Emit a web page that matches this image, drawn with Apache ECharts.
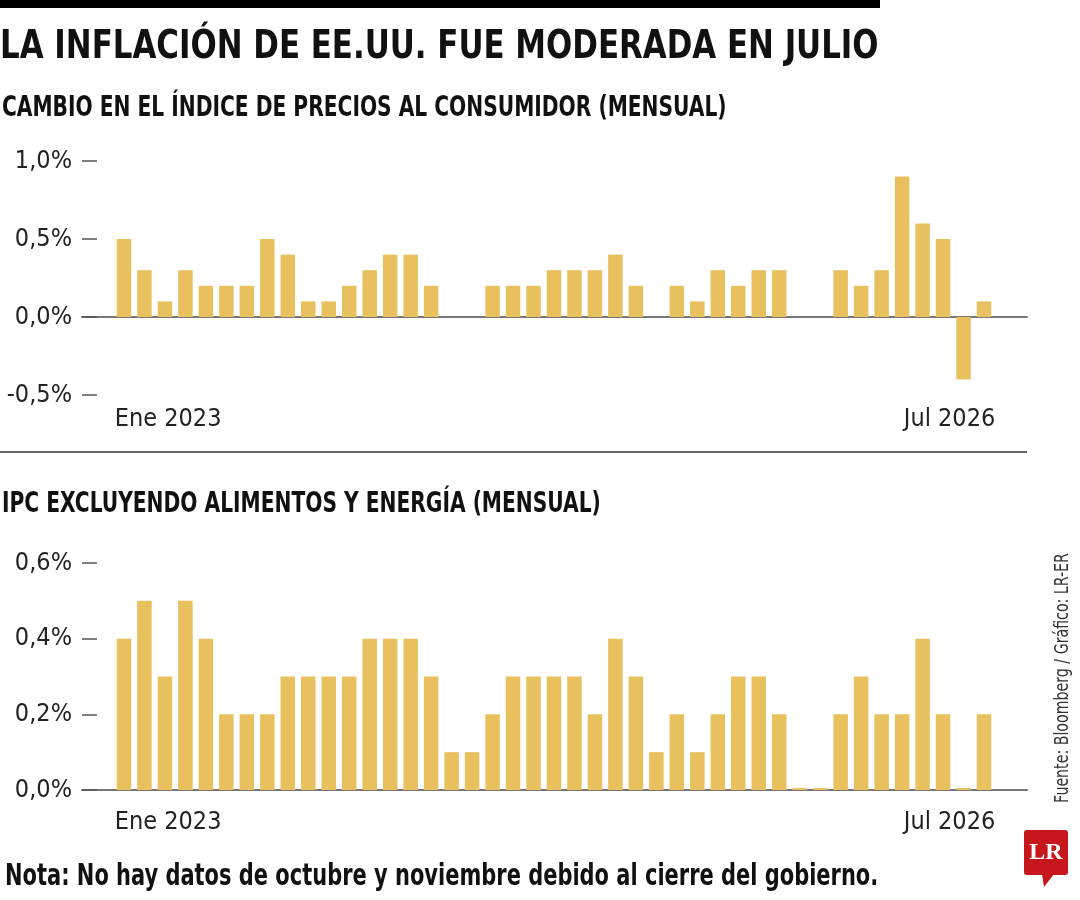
<!DOCTYPE html>
<html>
<head>
<meta charset="utf-8">
<title>Inflación EE.UU.</title>
<script src="https://cdn.jsdelivr.net/npm/echarts@6/dist/echarts.min.js"></script>
<style>
  html, body { margin: 0; padding: 0; background: #fff; }
  #chart { width: 1080px; height: 900px; }
</style>
</head>
<body>
<div id="chart"></div>
<script>
var FUENTE = "'Liberation Sans Narrow', 'DejaVu Sans Condensed', sans-serif";
var ORO = '#E8C15E';

// meses de ene 2023 a jul 2026
var nombresMes = ['Ene', 'Feb', 'Mar', 'Abr', 'May', 'Jun', 'Jul', 'Ago', 'Sep', 'Oct', 'Nov', 'Dic'];
var anios = [2023, 2024, 2025, 2026];
var meses = [];
anios.forEach(function (a) {
    nombresMes.forEach(function (m) { meses.push(m + ' ' + a); });
});
meses = meses.slice(0, 43);

// cambio mensual del IPC (%)
var ipcGeneral = [
    0.5, 0.3, 0.1, 0.3, 0.2, 0.2, 0.2, 0.5, 0.4, 0.1, 0.1, 0.2,
    0.3, 0.4, 0.4, 0.2, 0.0, 0.0, 0.2, 0.2, 0.2, 0.3, 0.3, 0.3,
    0.4, 0.2, 0.0, 0.2, 0.1, 0.3, 0.2, 0.3, 0.3, 0.0, 0.0, 0.3,
    0.2, 0.3, 0.9, 0.6, 0.5, -0.4, 0.1
];
// IPC sin alimentos ni energía (%)
var ipcSubyacente = [
    0.4, 0.5, 0.3, 0.5, 0.4, 0.2, 0.2, 0.2, 0.3, 0.3, 0.3, 0.3,
    0.4, 0.4, 0.4, 0.3, 0.1, 0.1, 0.2, 0.3, 0.3, 0.3, 0.3, 0.2,
    0.4, 0.3, 0.1, 0.2, 0.1, 0.2, 0.3, 0.3, 0.2, 0.0, 0.0, 0.2,
    0.3, 0.2, 0.2, 0.4, 0.2, 0.0, 0.2
];

var ticksGeneral = [-0.5, 0, 0.5, 1.0];
var ticksSubyacente = [0, 0.2, 0.4, 0.6];
var etiquetasX = [meses[0], meses[meses.length - 1]];

function pct(v) {
    return v.toFixed(1).replace('.', ',') + '%';
}

var chart = echarts.init(document.getElementById('chart'));

var grids = [
    { left: 82, right: 53, top: 161, bottom: 505 },
    { left: 82, right: 53, top: 563, bottom: 110 }
];

var xMin = -2.05, xMax = 44.1;

function ejesX(g, margen) {
    var base = {
        gridIndex: g, type: 'value', min: xMin, max: xMax, position: 'bottom',
        splitLine: { show: false }, axisTick: { show: false }
    };
    var etiqueta = { margin: margen, fontFamily: FUENTE, fontSize: 25, color: '#222' };
    return [
        Object.assign({}, base, {
            axisLine: { onZero: true, lineStyle: { color: '#777', width: 2 } },
            axisLabel: { show: false }
        }),
        Object.assign({}, base, {
            axisLine: { show: false, onZero: false },
            axisLabel: Object.assign({
                customValues: [-0.45], align: 'left',
                formatter: function () { return etiquetasX[0]; }
            }, etiqueta)
        }),
        Object.assign({}, base, {
            axisLine: { show: false, onZero: false },
            axisLabel: Object.assign({
                customValues: [42.55], align: 'right',
                formatter: function () { return etiquetasX[1]; }
            }, etiqueta)
        })
    ];
}

function ejeY(g, ticks) {
    return {
        gridIndex: g, type: 'value',
        min: ticks[0], max: ticks[ticks.length - 1], interval: ticks[1] - ticks[0],
        axisLine: { show: false, onZero: false },
        axisTick: { show: true, inside: true, length: 15, lineStyle: { color: '#555', width: 1.5 } },
        splitLine: { show: false },
        axisLabel: { margin: 10, fontFamily: FUENTE, fontSize: 25, color: '#222', formatter: pct }
    };
}

// textos de cabecera y pie, estrechados para parecer condensados
function texto(t, x, y, size, sx, peso) {
    return {
        type: 'text', x: x, y: y, scaleX: sx,
        style: {
            text: t, fontFamily: FUENTE, fontSize: size, fontWeight: peso || 'bold',
            fill: '#111', textAlign: 'left', textVerticalAlign: 'middle'
        }
    };
}

var option = {
    backgroundColor: '#ffffff',
    animation: false,
    grid: grids,
    xAxis: ejesX(0, 12).concat(ejesX(1, 20)),
    yAxis: [ejeY(0, ticksGeneral), ejeY(1, ticksSubyacente)],
    series: [
        {
            type: 'bar', xAxisIndex: 0, yAxisIndex: 0, barWidth: 14.5,
            itemStyle: { color: ORO },
            data: ipcGeneral.map(function (v, i) { return [i, v]; })
        },
        {
            type: 'bar', xAxisIndex: 3, yAxisIndex: 1, barWidth: 14.5, barMinHeight: 2,
            itemStyle: { color: ORO },
            data: ipcSubyacente.map(function (v, i) { return [i, v]; })
        }
    ],
    graphic: [
        { type: 'rect', left: 0, top: 0, shape: { width: 880, height: 8 }, style: { fill: '#000' } },
        { type: 'rect', left: 0, top: 451, shape: { width: 1027, height: 2 }, style: { fill: '#666' } },
        texto('LA INFLACIÓN DE EE.UU. FUE MODERADA EN JULIO', 0, 48, 39, 0.88),
        texto('CAMBIO EN EL ÍNDICE DE PRECIOS AL CONSUMIDOR (MENSUAL)', 2, 108, 29, 0.775),
        texto('IPC EXCLUYENDO ALIMENTOS Y ENERGÍA (MENSUAL)', 2, 504, 29, 0.775),
        texto('Nota: No hay datos de octubre y noviembre debido al cierre del gobierno.', 5, 877, 31, 0.752),
        {
            type: 'text', x: 1063, y: 678, rotation: Math.PI / 2, scaleX: 0.83,
            style: {
                text: 'Fuente: Bloomberg / Gráfico: LR-ER', fontFamily: FUENTE, fontSize: 19,
                fill: '#333', textAlign: 'center', textVerticalAlign: 'middle'
            }
        },
        {
            type: 'group', left: 1024, top: 830,
            children: [
                { type: 'rect', shape: { x: 0, y: 0, width: 44, height: 45, r: 3 }, style: { fill: '#C8161D' } },
                { type: 'polygon', shape: { points: [[18, 44], [30, 44], [20, 57]] }, style: { fill: '#C8161D' } },
                { type: 'text', x: 22, y: 23, style: {
                    text: 'LR', fontFamily: "'Liberation Serif', 'DejaVu Serif', serif", fontSize: 24,
                    fontWeight: 'bold', fill: '#fff', textAlign: 'center', textVerticalAlign: 'middle'
                } }
            ]
        }
    ]
};

chart.setOption(option);
</script>
</body>
</html>
